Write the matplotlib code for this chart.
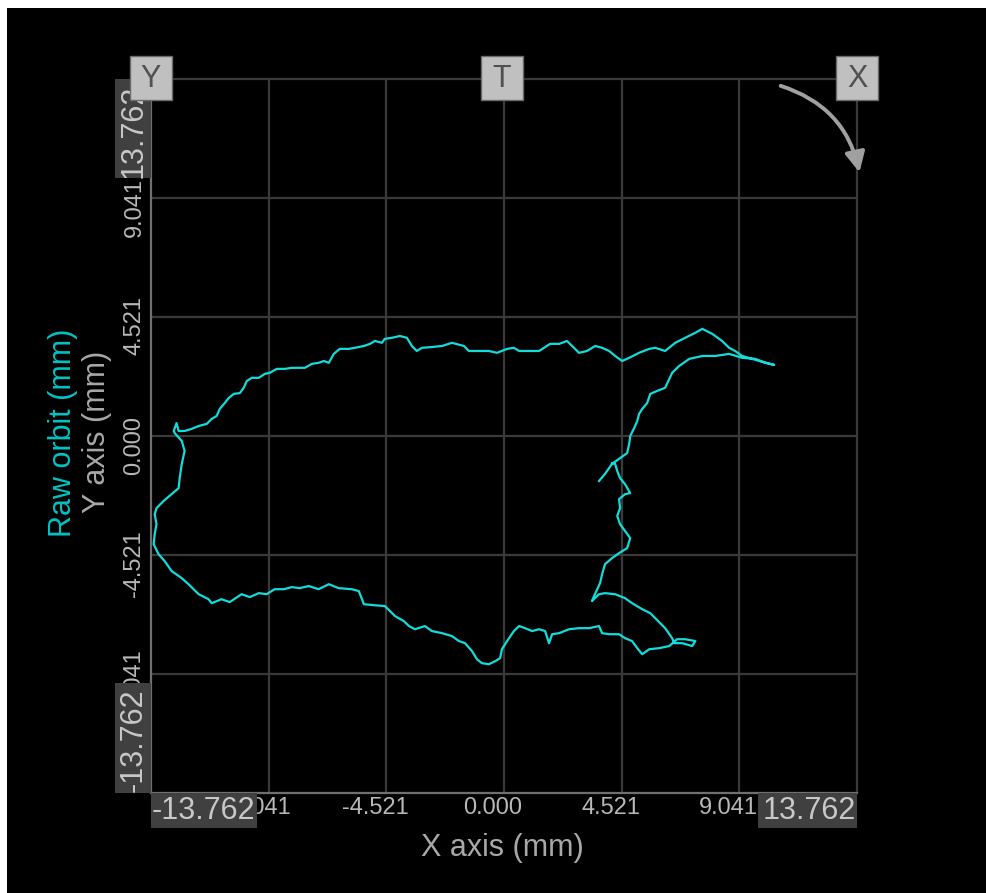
import matplotlib
matplotlib.use("Agg")
import matplotlib.pyplot as plt
from matplotlib.patches import Rectangle, FancyArrowPatch
from matplotlib.transforms import ScaledTranslation

plt.rcParams['font.family'] = ['Liberation Sans', 'DejaVu Sans']

# ---------------- data (mm) ----------------
tick_values = [-9.041, -4.521, 0.0, 4.521, 9.041]
tick_labels = ["-9.041", "-4.521", "0.000", "4.521", "9.041"]
axis_half_span = 13.562          # plotted half-range of both axes
edge_label_pos = "13.762"
edge_label_neg = "-13.762"

# orbit trace, segment 1: from the spur up to the right tip
orbit_x_rise = [3.65, 3.88, 4.15, 4.42, 4.73, 4.81, 4.85, 5.00, 5.12, 5.19, 5.31, 5.50, 5.62,
                5.88, 6.19, 6.35, 6.46, 6.73, 7.12, 7.62, 8.12, 8.65, 9.15, 9.65, 10.04, 10.38]
orbit_y_rise = [-1.71, -1.44, -1.06, -0.87, -0.65, -0.30, 0.00, 0.30, 0.57, 0.84, 1.03, 1.25, 1.60,
                1.71, 1.83, 2.17, 2.40, 2.66, 2.93, 3.04, 3.04, 3.12, 2.97, 2.93, 2.78, 2.70]

# segment 2: upper branch, right tip to left knot
orbit_x_top = [9.81, 9.15, 8.88, 8.65, 8.38, 8.00, 7.62, 7.35, 6.96, 6.58,
               6.19, 5.81, 5.58, 5.19, 4.81, 4.54, 4.27, 4.04, 3.77, 3.50,
               3.19, 2.88, 2.69, 2.42, 2.12, 1.77, 1.54, 1.35, 0.96, 0.58,
               0.38, 0.12, -0.27, -0.58, -0.96, -1.35, -1.54, -2.00, -2.38, -2.77,
               -3.15, -3.35, -3.54, -3.73, -4.00, -4.31, -4.58, -4.69, -4.96, -5.15,
               -5.38, -5.73, -5.96, -6.31, -6.54, -6.73, -6.92, -7.12, -7.38, -7.65,
               -7.88, -8.15, -8.42, -8.73, -9.00, -9.19, -9.42, -9.69, -9.88, -10.00,
               -10.15, -10.38, -10.58, -10.73, -10.92, -11.04, -11.23, -11.42, -11.73, -12.00,
               -12.27, -12.50, -12.58, -12.69, -12.65]
orbit_y_top = [2.85, 3.04, 3.23, 3.35, 3.61, 3.88, 4.07, 3.92, 3.73, 3.54,
               3.23, 3.35, 3.31, 3.16, 2.97, 2.85, 3.04, 3.23, 3.35, 3.42,
               3.23, 3.16, 3.35, 3.61, 3.50, 3.50, 3.35, 3.23, 3.23, 3.23,
               3.35, 3.31, 3.16, 3.23, 3.23, 3.23, 3.42, 3.54, 3.42, 3.38,
               3.35, 3.23, 3.42, 3.73, 3.80, 3.73, 3.69, 3.54, 3.61, 3.50,
               3.42, 3.35, 3.31, 3.31, 3.12, 2.78, 2.85, 2.78, 2.74, 2.59,
               2.59, 2.59, 2.55, 2.55, 2.40, 2.36, 2.21, 2.21, 2.09, 1.83,
               1.63, 1.60, 1.44, 1.25, 1.03, 0.76, 0.65, 0.46, 0.38, 0.27,
               0.19, 0.19, 0.49, 0.19, 0.11]

# segment 3: left side, lower branch, right loop and back up to the spur
orbit_x_low = [-12.38, -12.27, -12.38, -12.46, -12.50, -12.77, -13.08, -13.35, -13.42, -13.35,
               -13.42, -13.46, -13.27, -13.04, -12.77, -12.38, -12.12, -11.73, -11.35, -11.23,
               -10.85, -10.54, -10.08, -9.77, -9.42, -9.12, -8.81, -8.46, -8.15, -7.85,
               -7.50, -7.12, -6.73, -6.35, -5.85, -5.58, -5.38, -4.96, -4.58, -4.38,
               -4.19, -3.85, -3.65, -3.42, -3.04, -2.77, -2.38, -2.00, -1.73, -1.50,
               -1.23, -1.04, -0.85, -0.58, -0.35, -0.15, -0.08, 0.12, 0.38, 0.58,
               0.81, 1.08, 1.35, 1.58, 1.73, 1.85, 2.12, 2.50, 2.88, 3.27,
               3.65, 3.77, 4.04, 4.42, 4.65, 4.92, 5.12, 5.31, 5.58, 5.96,
               6.35, 6.65, 6.96, 7.35, 7.23, 6.85, 6.54, 6.46, 6.19, 5.81,
               5.62, 5.31, 4.92, 4.65, 4.27, 3.88, 3.65, 3.38, 3.46, 3.58,
               3.69, 3.77, 3.88, 4.15, 4.42, 4.73, 4.85, 4.65, 4.46, 4.35,
               4.46, 4.42, 4.65, 4.85, 4.65, 4.46, 4.35, 4.27, 4.15]
orbit_y_low = [-0.19, -0.57, -1.06, -1.60, -1.98, -2.21, -2.47, -2.74, -2.97, -3.35,
               -3.73, -4.11, -4.49, -4.75, -5.13, -5.40, -5.63, -6.01, -6.20, -6.35,
               -6.20, -6.31, -6.01, -6.12, -5.97, -6.01, -5.82, -5.82, -5.74, -5.78,
               -5.70, -5.82, -5.63, -5.78, -5.82, -5.89, -6.39, -6.43, -6.46, -6.65,
               -6.84, -7.03, -7.22, -7.34, -7.22, -7.41, -7.49, -7.60, -7.79, -7.87,
               -8.17, -8.48, -8.63, -8.67, -8.56, -8.44, -8.10, -7.79, -7.41, -7.22,
               -7.30, -7.41, -7.34, -7.41, -7.87, -7.53, -7.49, -7.34, -7.30, -7.30,
               -7.22, -7.49, -7.53, -7.53, -7.68, -7.79, -8.06, -8.29, -8.10, -8.06,
               -7.98, -7.72, -7.72, -7.79, -7.98, -7.87, -7.87, -7.68, -7.30, -6.92,
               -6.73, -6.58, -6.35, -6.16, -6.01, -5.97, -6.01, -6.27, -6.08, -5.82,
               -5.59, -5.25, -4.87, -4.64, -4.45, -4.26, -3.88, -3.61, -3.35, -3.04,
               -2.74, -2.40, -2.21, -2.17, -1.83, -1.60, -1.33, -1.06, -1.03]

orbit_x = orbit_x_rise + orbit_x_top + orbit_x_low
orbit_y = orbit_y_rise + orbit_y_top + orbit_y_low

# ---------------- styling ----------------
W, H = 986, 893
BG = "black"
CYAN = "#12dcdc"
GRID = "#3a3a3a"
SPINE = "#707070"
TICK = "#b8b8b8"
LABEL = "#a8a8a8"
BOX = "#404040"
BOXTXT = "#c8c8c8"


def fx(x):
    return x / W


def fy(y):
    return 1 - y / H


fig = plt.figure(figsize=(W / 100, H / 100), dpi=100)
fig.patch.set_facecolor(BG)
# white margins at top and left
fig.patches.append(Rectangle((0, fy(8)), 1, 1 - fy(8), transform=fig.transFigure,
                             facecolor="white", edgecolor="none", zorder=1))
fig.patches.append(Rectangle((0, 0), fx(7), 1, transform=fig.transFigure,
                             facecolor="white", edgecolor="none", zorder=1))

left, right, top, bottom = 151, 857, 79, 793
ax = fig.add_axes([fx(left), fy(bottom), fx(right - left), (bottom - top) / H])
ax.set_facecolor(BG)
ax.set_xlim(-axis_half_span, axis_half_span)
ax.set_ylim(-axis_half_span, axis_half_span)

ax.plot(orbit_x, orbit_y, color=CYAN, lw=1.6, solid_joinstyle="round", zorder=3)

ax.set_xticks(tick_values)
ax.set_yticks(tick_values)
ax.set_xticklabels(tick_labels)
ax.set_yticklabels(tick_labels)
ax.grid(True, color=GRID, lw=1.6, zorder=0)
ax.set_axisbelow(True)
ax.tick_params(axis="both", length=0, labelsize=17, labelcolor=TICK)
ax.tick_params(axis="x", pad=3)
ax.tick_params(axis="y", pad=4)
for lab in ax.get_xticklabels():
    lab.set_transform(lab.get_transform() + ScaledTranslation(-11 / 100, 0, fig.dpi_scale_trans))
for lab in ax.get_yticklabels():
    lab.set_rotation(90)
    lab.set_ha("right")
    lab.set_va("center")
    lab.set_transform(lab.get_transform() + ScaledTranslation(0, -9 / 100, fig.dpi_scale_trans))

for side in ("top", "right"):
    ax.spines[side].set_color(GRID)
    ax.spines[side].set_linewidth(1.6)
for side in ("left", "bottom"):
    ax.spines[side].set_color(SPINE)
    ax.spines[side].set_linewidth(1.6)

# axis titles
fig.text(fx(502), fy(848), "X axis (mm)", color=LABEL, fontsize=22, ha="center", va="center")
fig.text(fx(97), fy(432), "Y axis (mm)", color=LABEL, fontsize=22, rotation=90,
         ha="center", va="center")
fig.text(fx(63), fy(433), "Raw orbit (mm)", color="#00c4c4", fontsize=22, rotation=90,
         ha="center", va="center")


# range boxes at the ends of the axes
def box(x0, y0, x1, y1, z=2, fc=BOX, ec="none", lw=0):
    fig.patches.append(Rectangle((fx(x0), fy(y1)), fx(x1 - x0), (y1 - y0) / H,
                                 transform=fig.transFigure, facecolor=fc, edgecolor=ec,
                                 lw=lw, zorder=z))


box(151, 793, 257, 828)
fig.text(fx(152), fy(811), edge_label_neg, color=BOXTXT, fontsize=22, ha="left",
         va="center", zorder=3)
box(758, 793, 857, 828)
fig.text(fx(856), fy(811), edge_label_pos, color=BOXTXT, fontsize=22, ha="right",
         va="center", zorder=3)
box(115, 683, 151, 793)
fig.text(fx(134), fy(792), edge_label_neg, color=BOXTXT, fontsize=22, rotation=90,
         ha="center", va="bottom", zorder=3)
box(115, 79, 151, 178)
fig.text(fx(134), fy(178), edge_label_pos, color=BOXTXT, fontsize=22, rotation=90,
         ha="center", va="bottom", zorder=3)

# corner letter boxes
for letter, cx in (("Y", 151), ("T", 502), ("X", 857)):
    box(cx - 21, 56, cx + 21, 100, z=4, fc="#c0c0c0", ec="#6a6a6a", lw=1)
    fig.text(fx(cx), fy(79), letter, color="#505050", fontsize=22, ha="center",
             va="center", zorder=5)

# rotation arrow
arrow = FancyArrowPatch((fx(778), fy(85)), (fx(860), fy(175)), transform=fig.transFigure,
                        connectionstyle="arc3,rad=-0.3", arrowstyle="-|>",
                        mutation_scale=30, lw=2.8, color="#a0a0a0", zorder=3)
fig.patches.append(arrow)

fig.savefig("out.png", dpi=100, facecolor=fig.get_facecolor())
